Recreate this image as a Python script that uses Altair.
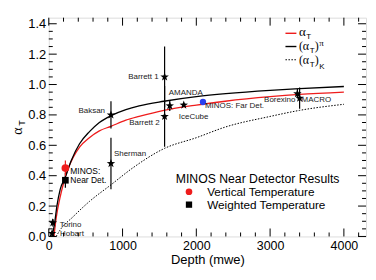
import altair as alt
import pandas as pd

# ---------------- data ----------------
exp_names = ["Hobart", "Torino", "Sherman", "Baksan", "Barrett 1", "Barrett 2",
             "AMANDA", "IceCube", "Borexino", "MACRO"]
exp_depth = [45, 55, 843, 843, 1570, 1570, 1640, 1830, 3370, 3400]
exp_alpha = [0.02, 0.09, 0.48, 0.80, 1.05, 0.79, 0.86, 0.865, 0.94, 0.91]
exp_err = [0.015, 0.025, 0.17, 0.09, 0.20, 0.20, 0.035, 0.012, 0.03, 0.07]

nd_depth = [225]
nd_vertical = [0.45]
nd_vertical_err = [0.05]
nd_weighted = [0.37]
nd_weighted_err = [0.05]

fd_depth = [2090]
fd_alpha = [0.885]
fd_err = [0.012]

# alpha_T (red)
red_depth = [70, 100, 150, 200, 250, 330, 420, 550, 686, 843, 1045, 1225, 1561,
             2000, 2392, 3000, 3400, 4000]
red_alpha = [0.0, 0.12, 0.25, 0.35, 0.43, 0.52, 0.59, 0.65, 0.695, 0.725, 0.765,
             0.79, 0.83, 0.865, 0.89, 0.92, 0.935, 0.95]
# (alpha_T)_pi (black)
pi_depth = [45, 80, 110, 155, 220, 305, 417, 552, 686, 843, 1045, 1225, 1561,
            2000, 2400, 3000, 3400, 4000]
pi_alpha = [0.0, 0.09, 0.2, 0.31, 0.385, 0.50, 0.61, 0.69, 0.75, 0.795, 0.835,
            0.86, 0.89, 0.92, 0.94, 0.962, 0.973, 0.987]
# (alpha_T)_K (dotted)
k_depth = [100, 150, 330, 550, 843, 1135, 1570, 2000, 2392, 3000, 3400, 4000]
k_alpha = [0.0, 0.04, 0.13, 0.23, 0.34, 0.45, 0.58, 0.65, 0.72, 0.79, 0.83, 0.87]

x_ticks = [0, 1000, 2000, 3000, 4000]
y_ticks = [0.0, 0.2, 0.4, 0.6, 0.8, 1.0, 1.2, 1.4]

# ---------------- layout / style ----------------
W, H = 319, 220
XMAX, YMAX = 4300, 1.44
FONT = "Liberation Sans"
SERIF = "Liberation Serif"
RED = "#ee1c1c"
BLUE = "#2a3ff0"
STAR = "M0,-1L0.24,-0.33L0.95,-0.31L0.38,0.12L0.59,0.81L0,0.4L-0.59,0.81L-0.38,0.12L-0.95,-0.31L-0.24,-0.33Z"

xs = alt.Scale(domain=[0, XMAX], nice=False)
ys = alt.Scale(domain=[0, YMAX], nice=False)

exp_df = pd.DataFrame({"name": exp_names, "depth": exp_depth, "alpha": exp_alpha,
                       "err": exp_err})
exp_df["lo"] = exp_df["alpha"] - exp_df["err"]
exp_df["hi"] = exp_df["alpha"] + exp_df["err"]

nd_df = pd.DataFrame({"depth": nd_depth, "v": nd_vertical, "ve": nd_vertical_err,
                      "w": nd_weighted, "we": nd_weighted_err})
nd_df["vlo"] = nd_df["v"] - nd_df["ve"]
nd_df["vhi"] = nd_df["v"] + nd_df["ve"]
nd_df["wlo"] = nd_df["w"] - nd_df["we"]
nd_df["whi"] = nd_df["w"] + nd_df["we"]

fd_df = pd.DataFrame({"depth": fd_depth, "alpha": fd_alpha, "err": fd_err})
fd_df["lo"] = fd_df["alpha"] - fd_df["err"]
fd_df["hi"] = fd_df["alpha"] + fd_df["err"]

red_df = pd.DataFrame({"depth": red_depth, "alpha": red_alpha})
pi_df = pd.DataFrame({"depth": pi_depth, "alpha": pi_alpha})
k_df = pd.DataFrame({"depth": k_depth, "alpha": k_alpha})

X_AXIS = alt.Axis(values=x_ticks, format="d", title="Depth (mwe)",
                  ticks=False, domain=False, grid=False,
                  labelFontSize=12.5, labelPadding=3, labelFont=FONT,
                  labelColor="black", titleFont=FONT, titleFontSize=13,
                  titleFontWeight="normal", titleColor="black",
                  titlePadding=2, labelFlush=False, labelOverlap=False)
Y_AXIS = alt.Axis(values=y_ticks, format=".1f", title="",
                  ticks=False, domain=False, grid=False,
                  labelFontSize=13, labelPadding=3,
                  labelFont=FONT, labelColor="black",
                  labelFlush=False, labelOverlap=False)


def XE(f="depth"):
    return alt.X(f"{f}:Q", scale=xs, axis=X_AXIS)


def YE(f="alpha"):
    return alt.Y(f"{f}:Q", scale=ys, axis=Y_AXIS)


layers = []

# curves
layers.append(alt.Chart(k_df).mark_line(color="black", strokeWidth=1.0,
                                        strokeDash=[1.5, 1.5], interpolate="monotone")
              .encode(x=XE(), y=YE()))
layers.append(alt.Chart(red_df).mark_line(color=RED, strokeWidth=1.3,
                                          interpolate="monotone")
              .encode(x=XE(), y=YE()))
layers.append(alt.Chart(pi_df).mark_line(color="black", strokeWidth=1.3,
                                         interpolate="monotone")
              .encode(x=XE(), y=YE()))

# error bars
layers.append(alt.Chart(exp_df).mark_rule(color="black", strokeWidth=1.2)
              .encode(x=XE(), y=YE("lo"), y2="hi:Q"))
layers.append(alt.Chart(nd_df).mark_rule(color="black", strokeWidth=1.2)
              .encode(x=XE(), y=YE("wlo"), y2="whi:Q"))
layers.append(alt.Chart(nd_df).mark_rule(color=RED, strokeWidth=1.2)
              .encode(x=XE(), y=YE("vlo"), y2="vhi:Q"))
layers.append(alt.Chart(fd_df).mark_rule(color=BLUE, strokeWidth=1.2)
              .encode(x=XE(), y=YE("lo"), y2="hi:Q"))

# markers
layers.append(alt.Chart(exp_df).mark_point(shape=STAR, filled=True, color="black",
                                           size=80, opacity=1)
              .encode(x=XE(), y=YE()))
layers.append(alt.Chart(nd_df).mark_point(shape="square", filled=True, color="black",
                                          size=45, opacity=1)
              .encode(x=XE(), y=YE("w")))
layers.append(alt.Chart(nd_df).mark_point(shape="circle", filled=True, color=RED,
                                          size=60, opacity=1)
              .encode(x=XE(), y=YE("v")))
layers.append(alt.Chart(fd_df).mark_point(shape="circle", filled=True, color=BLUE,
                                          size=40, opacity=1)
              .encode(x=XE(), y=YE()))

# experiment labels (offsets are layout only)
label_style = [
    ("Hobart", 8, 1, "left"),
    ("Torino", 7, 2, "left"),
    ("Sherman", 3, -10, "left"),
    ("Baksan", -6, -4, "right"),
    ("Barrett 1", -6, 0, "right"),
    ("Barrett 2", -5, 7, "right"),
    ("AMANDA", -1, -13, "left"),
    ("IceCube", -5, 12, "left"),
    ("Borexino", -2, 6, "right"),
    ("MACRO", 2, 2, "left"),
]
for name, dx, dy, al in label_style:
    layers.append(alt.Chart(exp_df).transform_filter(alt.datum.name == name)
                  .mark_text(dx=dx, dy=dy, align=al, baseline="middle", fontSize=8,
                             font=FONT, color="#222222")
                  .encode(x=XE(), y=YE(), text="name:N"))
layers.append(alt.Chart(nd_df).mark_text(dx=5, dy=2.5, align="left", baseline="middle",
                                         fontSize=8.5, font=FONT, color="black",
                                         lineBreak="\n", lineHeight=9)
              .transform_calculate(lab="'MINOS:\\nNear Det.'")
              .encode(x=XE(), y=YE("v"), text="lab:N"))
layers.append(alt.Chart(fd_df).mark_text(dx=2, dy=4, align="left", baseline="middle",
                                         fontSize=8, font=FONT, color="#222222")
              .transform_calculate(lab="'MINOS: Far Det.'")
              .encode(x=XE(), y=YE(), text="lab:N"))

# inner ticks on all four sides (ROOT style)
x_minor = [v for v in range(0, XMAX + 1, 200) if v % 1000 != 0]
y_minor = [round(v * 0.05, 2) for v in range(0, 29) if (v % 4) != 0]
xt_major = pd.DataFrame({"t": x_ticks})
xt_minor = pd.DataFrame({"t": x_minor})
yt_major = pd.DataFrame({"t": y_ticks})
yt_minor = pd.DataFrame({"t": y_minor})
for df, ln in [(xt_major, 8), (xt_minor, 4)]:
    layers.append(alt.Chart(df).mark_rule(color="black", strokeWidth=1)
                  .encode(x=XE("t"), y=alt.value(H), y2=alt.value(H - ln)))
    layers.append(alt.Chart(df).mark_rule(color="black", strokeWidth=1)
                  .encode(x=XE("t"), y=alt.value(0), y2=alt.value(ln)))
for df, ln in [(yt_major, 8), (yt_minor, 4)]:
    layers.append(alt.Chart(df).mark_rule(color="black", strokeWidth=1)
                  .encode(y=YE("t"), x=alt.value(0), x2=alt.value(ln)))
    layers.append(alt.Chart(df).mark_rule(color="black", strokeWidth=1)
                  .encode(y=YE("t"), x=alt.value(W), x2=alt.value(W - ln)))

# ---- pixel-placed annotation: y title and the two legends ----
one = pd.DataFrame({"a": [0]})


def txt(s, x, y, size, font=FONT, align="left", baseline="alphabetic", angle=0,
        color="black"):
    kw = dict(align=align, baseline=baseline, fontSize=size, font=font, color=color)
    if angle:
        kw["angle"] = angle
    return alt.Chart(one).mark_text(text=s, **kw).encode(x=alt.value(x), y=alt.value(y))


def hline(x1, x2, y, color="black", dash=None, width=1.4):
    kw = dict(color=color, strokeWidth=width)
    if dash:
        kw["strokeDash"] = dash
    return alt.Chart(one).mark_rule(**kw).encode(x=alt.value(x1), x2=alt.value(x2),
                                                 y=alt.value(y))


# y axis title alpha_T
layers.append(txt("α", -27, 114, 14, SERIF, align="center", angle=270))
layers.append(txt("T", -24, 106, 9, FONT, align="center", angle=270))

# legend for curves (top right)
lx = 300.5 - 49
layers.append(hline(238, 249, 15.7, RED))
layers.append(txt("α", lx, 18, 13, SERIF))
layers.append(txt("T", lx + 7.5, 21.5, 8))
layers.append(hline(238, 249, 29))
layers.append(txt("(α", lx, 33, 12, SERIF))
layers.append(txt("T", lx + 11, 36, 8))
layers.append(txt(")", lx + 16, 33, 12, SERIF))
layers.append(txt("π", lx + 20.5, 28.5, 9, SERIF))
layers.append(hline(238, 249, 42.3, dash=[1.5, 1.5], width=1.2))
layers.append(txt("(α", lx, 46.5, 12, SERIF))
layers.append(txt("T", lx + 11, 49.5, 8))
layers.append(txt(")", lx + 16, 46.5, 12, SERIF))
layers.append(txt("K", lx + 20.5, 51.5, 8))

# legend for MINOS near detector points
layers.append(txt("MINOS Near Detector Results", 176.7 - 49, 162.3, 12.3, baseline="middle"))
layers.append(alt.Chart(one).mark_point(shape="circle", filled=True, color=RED, size=45,
                                        opacity=1)
              .encode(x=alt.value(190 - 49), y=alt.value(192 - 17)))
layers.append(txt("Vertical Temperature", 208.3 - 49, 175.3, 11.8, baseline="middle"))
layers.append(alt.Chart(one).mark_point(shape="square", filled=True, color="black",
                                        size=40, opacity=1)
              .encode(x=alt.value(190 - 49), y=alt.value(205 - 17)))
layers.append(txt("Weighted Temperature", 208.3 - 49, 188, 11.8, baseline="middle"))

chart = (alt.layer(*layers)
         .properties(width=W, height=H,
                     autosize=alt.AutoSizeParams(type="none"),
                     padding={"left": 41, "top": 9, "right": 2, "bottom": 35})
         .configure_view(stroke="black", strokeWidth=1.5)
         .configure(background="white"))

chart.save("out.html", embed_options={"renderer": "svg", "actions": False})
